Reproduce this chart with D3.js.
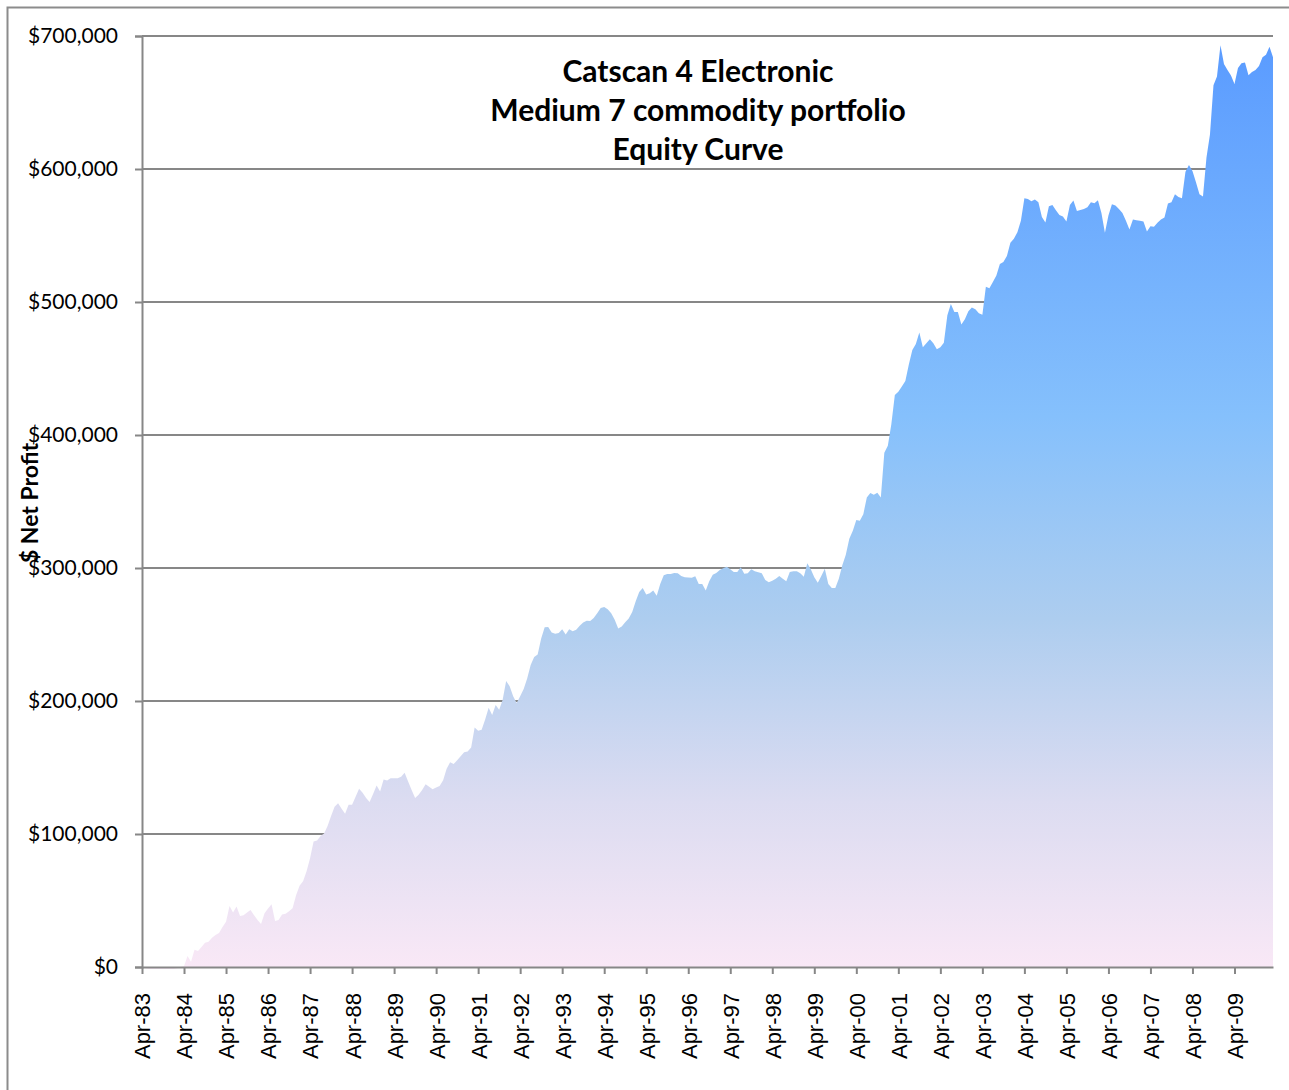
<!DOCTYPE html>
<html>
<head>
<meta charset="utf-8">
<script src="https://cdn.jsdelivr.net/npm/d3@7"></script>
<style>
  body { margin: 0; background: #fff; }
  svg { display: block; }
</style>
</head>
<body>
<div id="chart"></div>
<script>
var width = 1289;
var height = 1090;

// chart text
var titleLines = ["Catscan 4 Electronic", "Medium 7 commodity portfolio", "Equity Curve"];
var yTitle = "$ Net Profit";

// monthly equity, Apr-83 .. Mar-10, in $ thousands
var startYear = 1983;
var equity = [
  0, -1, -1.5, -1.5, -1.5, -1.5, -1.5, -1.5, -1.5, -1.5, -1, 0,
  0.5, 8.3, 4, 13, 12, 15, 18.3, 19, 22, 24, 25.5, 30,
  34, 45.9, 41, 45.4, 38.4, 39, 41, 42.9, 39, 35.4, 32.4, 40.4,
  44, 47.2, 34.6, 35.4, 39.5, 40, 42, 44.2, 54, 61, 64.5, 72,
  81.8, 94.3, 95.1, 98.5, 100.3, 106, 113.5, 120.5, 123.2, 119, 115.2, 122,
  121.9, 128, 134, 131, 127, 124, 130, 136.5, 132, 141, 140.2, 142,
  142, 142, 143, 146, 139.5, 133, 127, 129.5, 133, 137.5, 135.5, 133.7,
  135, 136, 140.5, 149, 154, 152.6, 155.5, 158.5, 161.5, 162, 165, 180,
  177.7, 178.4, 186, 195, 189.5, 197, 193.5, 201, 215, 211, 203.5, 198.5,
  203.5, 209, 217, 227, 233, 235, 247, 255.5, 255.7, 251.5, 250.5, 251.2,
  254, 250, 254, 252.4, 253.5, 256.5, 259, 260.3, 260.2, 262.5, 266, 270,
  270.7, 269, 266, 261, 254.5, 256, 259.2, 262, 267, 275, 282, 285,
  280, 281, 283, 279.2, 288, 294.5, 295.5, 295.5, 296.2, 296, 294, 293,
  292.8, 292.6, 293.8, 288, 288, 283, 290, 295, 296.3, 298.5, 299.8, 301,
  299, 297, 297, 300.5, 295.6, 296, 299, 297.5, 296.8, 296, 291, 289.3,
  290.5, 292, 294, 292, 290, 297, 297.5, 297.5, 296, 293.5, 303.5, 299,
  293, 289, 294, 299.5, 288, 285, 285, 292, 302, 310, 322, 328,
  336, 335.5, 340.5, 353, 356.4, 355, 356.5, 353, 386.7, 392, 408, 430,
  432.6, 436.5, 440.6, 453, 464, 468.5, 477, 466, 469, 472, 469, 464.5,
  466, 469.4, 490, 498.5, 492.5, 492.5, 483, 487, 493, 495.8, 494.5, 491.5,
  490.5, 511.5, 510.4, 515, 520, 528.5, 530, 534.5, 544.5, 547.5, 552.5, 561,
  578, 577.5, 575.7, 577, 575, 564, 559.7, 572, 573, 569, 565.5, 564.3,
  560.5, 573, 576.3, 568.5, 569.2, 570, 571.3, 575, 574.3, 576.5, 567, 552,
  565, 573.5, 572.5, 570, 567, 561, 554.5, 562, 561.5, 561, 560.5, 553,
  557, 556.5, 559.5, 562, 563.6, 574, 575, 581, 579, 578, 598, 603,
  598.5, 590, 581, 579.3, 608.7, 626, 663, 669.5, 693, 679, 674.5, 670.3,
  664, 676, 679.5, 680, 670.5, 673, 674.5, 677.5, 684, 685.9, 692, 684
];

var yTicks = [0, 100000, 200000, 300000, 400000, 500000, 600000, 700000];

var data = equity.map(function(v, i) { return { i: i, value: v * 1000 }; });

var margin = { left: 142, right: 16, top: 36, bottom: 123 };
var plotW = width - margin.left - margin.right;
var plotH = height - margin.top - margin.bottom;

var svg = d3.select("#chart")
    .append("svg")
    .attr("width", width)
    .attr("height", height);

// outer chart frame
svg.append("rect")
    .attr("x", 7.5)
    .attr("y", 7.5)
    .attr("width", width + 10)
    .attr("height", height + 10)
    .attr("fill", "none")
    .attr("stroke", "#8c8c8c")
    .attr("stroke-width", 2);

var g = svg.append("g")
    .attr("transform", "translate(" + margin.left + "," + margin.top + ")");

var x = d3.scaleLinear()
    .domain([0, equity.length - 1])
    .range([0, plotW]);

var y = d3.scaleLinear()
    .domain([0, 700000])
    .range([plotH, 0]);

var defs = svg.append("defs");
var grad = defs.append("linearGradient")
    .attr("id", "fillGrad")
    .attr("gradientUnits", "userSpaceOnUse")
    .attr("x1", 0).attr("x2", 0)
    .attr("y1", y(690000)).attr("y2", y(0));
[[0, "#5b9cff"], [0.4, "#85c0fc"], [0.62, "#adcdef"], [0.82, "#dcdcf1"], [1, "#f9e8f6"]]
  .forEach(function(s) {
    grad.append("stop").attr("offset", s[0]).attr("stop-color", s[1]);
  });

// gridlines
g.append("g")
    .selectAll("line")
    .data(yTicks.slice(1))
    .enter().append("line")
      .attr("x1", 0)
      .attr("x2", plotW)
      .attr("y1", function(d) { return y(d); })
      .attr("y2", function(d) { return y(d); })
      .attr("stroke", "#878787")
      .attr("stroke-width", 2);

var area = d3.area()
    .x(function(d) { return x(d.i); })
    .y0(y(0))
    .y1(function(d) { return y(d.value); });

g.append("path")
    .datum(data)
    .attr("d", area)
    .attr("fill", "url(#fillGrad)");

// y axis
var yAxis = g.append("g")
    .call(d3.axisLeft(y)
      .tickValues(yTicks)
      .tickSize(7)
      .tickPadding(17)
      .tickFormat(function(d) { return "$" + d3.format(",")(d); }));
yAxis.select(".domain").attr("stroke", "#878787").attr("stroke-width", 2);
yAxis.selectAll(".tick line").attr("stroke", "#878787").attr("stroke-width", 2);
yAxis.selectAll("text")
    .attr("font-family", "Lato, 'Open Sans', sans-serif")
    .attr("font-size", "21px")
    .attr("fill", "#000");

// x axis
var xAxis = g.append("g")
    .attr("transform", "translate(0," + plotH + ")")
    .call(d3.axisBottom(x)
      .tickValues(d3.range(0, equity.length, 12))
      .tickSize(7)
      .tickSizeOuter(0)
      .tickFormat(function(d) {
        var yr = (startYear + d / 12) % 100;
        return "Apr-" + (yr < 10 ? "0" : "") + yr;
      }));
xAxis.select(".domain").attr("stroke", "#878787").attr("stroke-width", 2);
xAxis.selectAll(".tick line").attr("stroke", "#878787").attr("stroke-width", 2);
xAxis.selectAll("text")
    .attr("font-family", "'Liberation Sans', Arial, sans-serif")
    .attr("font-size", "22px")
    .attr("fill", "#000")
    .attr("text-anchor", "end")
    .attr("transform", "rotate(-90)")
    .attr("x", -26)
    .attr("y", 0)
    .attr("dy", "0.36em");

// y axis title
svg.append("text")
    .attr("transform", "translate(38,503) rotate(-90)")
    .attr("text-anchor", "middle")
    .attr("font-family", "Lato, 'Open Sans', sans-serif")
    .attr("font-weight", "bold")
    .attr("font-size", "23px")
    .text(yTitle);

// title
svg.append("text")
    .attr("text-anchor", "middle")
    .attr("font-family", "Lato, 'Open Sans', sans-serif")
    .attr("font-weight", "bold")
    .attr("font-size", "30px")
  .selectAll("tspan")
  .data(titleLines)
  .enter().append("tspan")
    .attr("x", 698)
    .attr("y", function(d, i) { return 82 + i * 39; })
    .text(function(d) { return d; });
</script>
</body>
</html>
